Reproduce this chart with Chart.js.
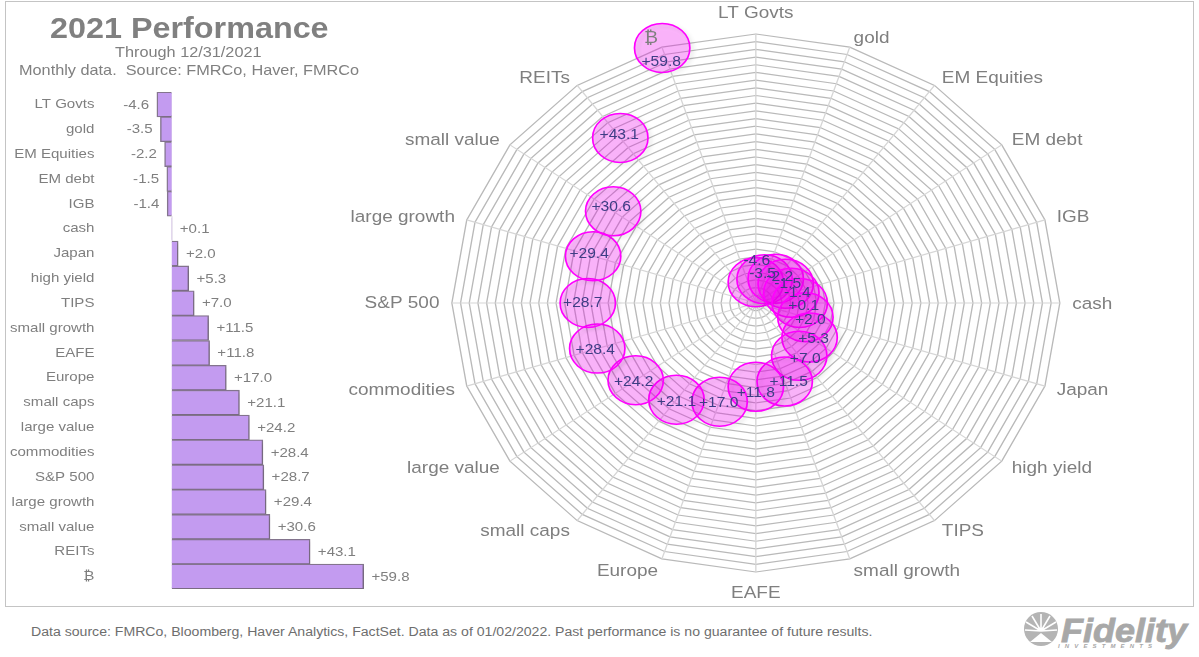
<!DOCTYPE html>
<html>
<head>
<meta charset="utf-8">
<title>2021 Performance</title>
<script src="https://cdn.jsdelivr.net/npm/chart.js@4"></script>
<style>
    body { margin: 0; background: #fff; width: 1199px; height: 657px; overflow: hidden; position: relative; font-family: "Liberation Sans", Arial, sans-serif; }
    canvas { position: absolute; }
    #frame { position: absolute; left: 5px; top: 1px; width: 1187px; height: 604px; border: 1px solid #c4c4c4; }
    .wide { position: absolute; white-space: pre; color: #808080; transform: scaleX(1.115); transform-origin: 0 0; }
    #title { left: 50px; top: 11px; font-size: 29px; font-weight: bold; line-height: 34px; }
    #sub1 { left: 115px; top: 44px; font-size: 14.6px; line-height: 17px; }
    #sub2 { left: 19px; top: 62px; font-size: 14.6px; line-height: 17px; }
    #note { left: 31px; top: 624px; font-size: 12.65px; line-height: 16px; color: #6e6e6e; }
    #logo { position: absolute; left: 1022px; top: 612px; }
</style>
</head>
<body>
<div id="frame"></div>
<canvas id="barChart" width="430" height="600" style="left:0;top:0"></canvas>
<canvas id="radarChart" width="859" height="600" style="left:340px;top:0"></canvas>
<div id="title" class="wide">2021 Performance</div>
<div id="sub1" class="wide">Through 12/31/2021</div>
<div id="sub2" class="wide">Monthly data.  Source: FMRCo, Haver, FMRCo</div>
<div id="note" class="wide">Data source: FMRCo, Bloomberg, Haver Analytics, FactSet. Data as of 01/02/2022. Past performance is no guarantee of future results.</div>
<svg id="logo" width="170" height="42" viewBox="0 0 170 42">
    <circle cx="19" cy="17" r="17" fill="#b4b4b4"/>
    <path d="M19 19 L19 2 M19 19 L10 4 M19 19 L28 4 M19 19 L4 10 M19 19 L34 10 M19 19 L3 18 M19 19 L35 18" stroke="#fff" stroke-width="1.6"/>
    <path d="M8 30 L19 21 L30 30 Z" fill="#fff"/>
    <text x="39" y="30" font-family="Liberation Sans" font-weight="bold" font-style="italic" font-size="33" fill="#a8a8a8" stroke="#a8a8a8" stroke-width="0.8" textLength="126" lengthAdjust="spacingAndGlyphs">Fidelity</text>
    <text x="36" y="36" font-family="Liberation Sans" font-weight="bold" font-style="italic" font-size="6" fill="#a8a8a8" textLength="94">INVESTMENTS</text>
</svg>
<script>
// 资产类别与 2021 年回报
const categories = ['LT Govts', 'gold', 'EM Equities', 'EM debt', 'IGB', 'cash', 'Japan', 'high yield', 'TIPS', 'small growth',
    'EAFE', 'Europe', 'small caps', 'large value', 'commodities', 'S&P 500', 'large growth', 'small value', 'REITs', '₿'];
const returns = [-4.6, -3.5, -2.2, -1.5, -1.4, 0.1, 2.0, 5.3, 7.0, 11.5,
    11.8, 17.0, 21.1, 24.2, 28.4, 28.7, 29.4, 30.6, 43.1, 59.8];

const FONT = '"Liberation Sans", "DejaVu Sans", Arial, sans-serif';
const GREY = '#7f7f7f';
const BAR_STRETCH = 1.115;
const RADAR_STRETCH = 1.13;

function formatReturn(v) {
    return (v > 0 ? '+' : '') + v.toFixed(1);
}

// 横向拉伸整个画布内容
function stretchPlugin(factor) {
    return {
        id: 'stretch',
        beforeDraw(chart) {
            chart.ctx.save();
            chart.ctx.scale(factor, 1);
        },
        afterDraw(chart) {
            chart.ctx.restore();
        }
    };
}

// 给标记加一点阴影
const shadowPlugin = {
    id: 'softShadow',
    beforeDatasetDraw(chart) {
        const ctx = chart.ctx;
        ctx.save();
        ctx.shadowColor = 'rgba(0,0,0,0.12)';
        ctx.shadowBlur = 4;
        ctx.shadowOffsetX = 3;
        ctx.shadowOffsetY = 2;
    },
    afterDatasetDraw(chart) {
        chart.ctx.restore();
    }
};

// 柱子末端的数值
const barValuePlugin = {
    id: 'barValues',
    afterDatasetsDraw(chart) {
        const ctx = chart.ctx;
        const bars = chart.getDatasetMeta(0).data;
        ctx.save();
        ctx.font = '13.5px ' + FONT;
        ctx.fillStyle = GREY;
        ctx.textBaseline = 'middle';
        returns.forEach((v, i) => {
            ctx.textAlign = v < 0 ? 'right' : 'left';
            ctx.fillText(formatReturn(v), bars[i].x + (v < 0 ? -7 : 7), bars[i].y + 0.5);
        });
        ctx.restore();
    }
};

// 雷达图的类别标签和气泡数值
const labelNudges = [[1, -21], [-2, -5], [4, -2], [2, 0], [6, 0], [4, 3], [5, 3], [4, 2], [6, 3], [4, 1],
    [0, 6], [-1, 2], [0, 3], [-2, 2], [-2, 2], [-5, 0], [-4, -2], [-2, -4], [-1, -3], [-1, 14]];

const radarLabelPlugin = {
    id: 'radarLabels',
    afterDatasetsDraw(chart) {
        const ctx = chart.ctx;
        const scale = chart.scales.r;
        const n = categories.length;
        const outer = scale.drawingArea;
        ctx.save();
        ctx.textBaseline = 'middle';

        ctx.font = '16.8px ' + FONT;
        ctx.fillStyle = GREY;
        categories.forEach((name, i) => {
            const p = scale.getPointPosition(i, outer + 11);
            const cos = Math.cos(i * 2 * Math.PI / n);
            if (i === 0 || i === n / 2) {
                ctx.textAlign = 'center';
                p.y += i === 0 ? -10 : 10;
            } else {
                ctx.textAlign = i < n / 2 ? 'left' : 'right';
                p.y -= 2 * cos;
                // 上半圈的标签离外环再近一点
                if (cos > 0) p.y += 1 + 3 * cos;
            }
            ctx.fillText(name, p.x, p.y);
        });

        ctx.font = '13.8px ' + FONT;
        ctx.fillStyle = '#3d3d85';
        ctx.textAlign = 'center';
        const points = chart.getDatasetMeta(0).data;
        returns.forEach((v, i) => {
            ctx.fillText(formatReturn(v), points[i].x + labelNudges[i][0] / RADAR_STRETCH, points[i].y + labelNudges[i][1]);
        });
        ctx.restore();
    }
};

// 左侧条形图
function initBarChart() {
    return new Chart(document.getElementById('barChart').getContext('2d'), {
        type: 'bar',
        data: {
            labels: categories,
            datasets: [{
                data: returns,
                backgroundColor: '#c39bf0',
                borderColor: '#85768f',
                borderWidth: 1.3,
                barPercentage: 1,
                categoryPercentage: 1
            }]
        },
        options: {
            indexAxis: 'y',
            responsive: false,
            animation: false,
            layout: { padding: { top: 92, bottom: 11, right: 74.5 } },
            plugins: { legend: { display: false }, tooltip: { enabled: false } },
            scales: {
                x: { display: false, min: -6, max: 70 },
                y: {
                    afterFit(axis) {
                        axis.width = 136.7;
                        axis.paddingTop = 0;
                        axis.paddingBottom = 0;
                    },
                    grid: { display: false, drawTicks: false },
                    border: { display: false },
                    ticks: {
                        autoSkip: false,
                        padding: 52,
                        color: GREY,
                        font: { size: 13.5, family: FONT }
                    }
                }
            }
        },
        plugins: [stretchPlugin(BAR_STRETCH), shadowPlugin, barValuePlugin]
    });
}

// 右侧雷达气泡图
function initRadarChart() {
    return new Chart(document.getElementById('radarChart').getContext('2d'), {
        type: 'radar',
        data: {
            labels: categories,
            datasets: [{
                data: returns,
                fill: false,
                showLine: false,
                borderWidth: 0,
                clip: false,
                pointRadius: 24.5,
                pointBackgroundColor: 'rgba(255,0,255,0.28)',
                pointBorderColor: '#ff00ff',
                pointBorderWidth: 1.5
            }]
        },
        options: {
            responsive: false,
            animation: false,
            layout: { padding: { top: 34, bottom: 28, left: 99.1, right: 221.9 } },
            plugins: { legend: { display: false }, tooltip: { enabled: false } },
            scales: {
                r: {
                    min: -10,
                    max: 60,
                    grid: { color: '#b9b9b9', lineWidth: 1.2 },
                    angleLines: { color: '#d6d6d6', lineWidth: 1.2 },
                    pointLabels: { display: false },
                    ticks: { display: false, stepSize: 2 }
                }
            }
        },
        plugins: [stretchPlugin(RADAR_STRETCH), shadowPlugin, radarLabelPlugin]
    });
}

initBarChart();
initRadarChart();
</script>
</body>
</html>
